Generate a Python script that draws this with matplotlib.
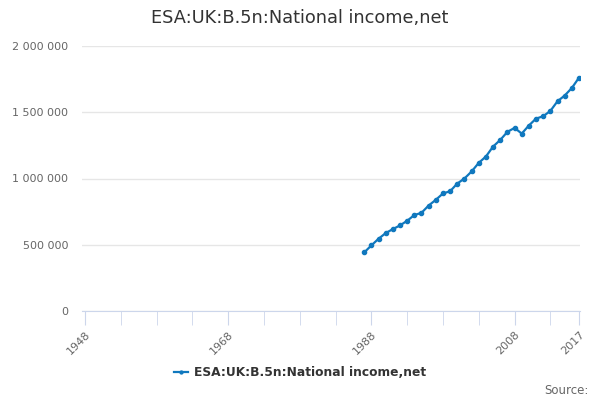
import numpy as np
import matplotlib.pyplot as plt
from matplotlib.ticker import FuncFormatter

# National income, net (UK)
years = np.arange(1987, 2018)
values = [442, 495, 545, 588, 618, 646, 681, 724, 741, 796,
          839, 887, 904, 962, 1000, 1053, 1118, 1166, 1241, 1291,
          1352, 1382, 1339, 1400, 1452, 1470, 1510, 1583, 1626, 1683, 1761]
values = np.array(values) * 1000

series_name = "ESA:UK:B.5n:National income,net"
tick_years = [1948, 1968, 1988, 2008, 2017]
minor_years = list(range(1948, 2017, 5)) + [2017]

line_color = "#1078be"
text_dark = "#333333"
text_grey = "#666666"

fig = plt.figure(figsize=(6, 4), dpi=100)
ax = fig.add_axes([82 / 600, 1 - 311 / 400, 498 / 600, 265 / 400])

ax.plot(years, values, color=line_color, lw=1.6, marker="o", ms=3,
        label=series_name)

ax.set_ylim(0, 2000000)
ax.set_yticks([0, 500000, 1000000, 1500000, 2000000])
ax.yaxis.set_major_formatter(
    FuncFormatter(lambda v, p: f"{int(v):,}".replace(",", " ")))
ax.set_xlim(1948 - 3 / 7.16, 2017 + 1 / 7.16)

ax.set_xticks(minor_years, minor=True)
ax.set_xticks(tick_years)
ax.set_xticklabels([str(y) for y in tick_years], rotation=45,
                   ha="right", va="top", rotation_mode="anchor")

ax.grid(axis="y", color="#e6e6e6", lw=1)
ax.set_axisbelow(True)
for s in ["top", "right", "left"]:
    ax.spines[s].set_visible(False)
ax.spines["bottom"].set_color("#ccd6eb")

ax.tick_params(axis="y", length=0, labelsize=8, labelcolor=text_grey, pad=10)
ax.tick_params(axis="x", which="both", length=10, color="#ccd6eb",
               labelsize=8, labelcolor=text_grey, pad=3)

fig.text(0.5, 1 - 18 / 400, series_name, ha="center", va="center",
         fontsize=12.8, color=text_dark)

leg = fig.legend(loc="center", bbox_to_anchor=(0.5, 1 - 373 / 400),
                 frameon=False, handlelength=1.1, handletextpad=0.5,
                 markerscale=0.7, prop={"size": 8.8, "weight": "bold"})
for t in leg.get_texts():
    t.set_color(text_dark)

fig.text(589 / 600, 1 - 390 / 400, "Source:", ha="right", va="center",
         fontsize=8.5, color=text_grey)

fig.savefig("out.png", dpi=100)
